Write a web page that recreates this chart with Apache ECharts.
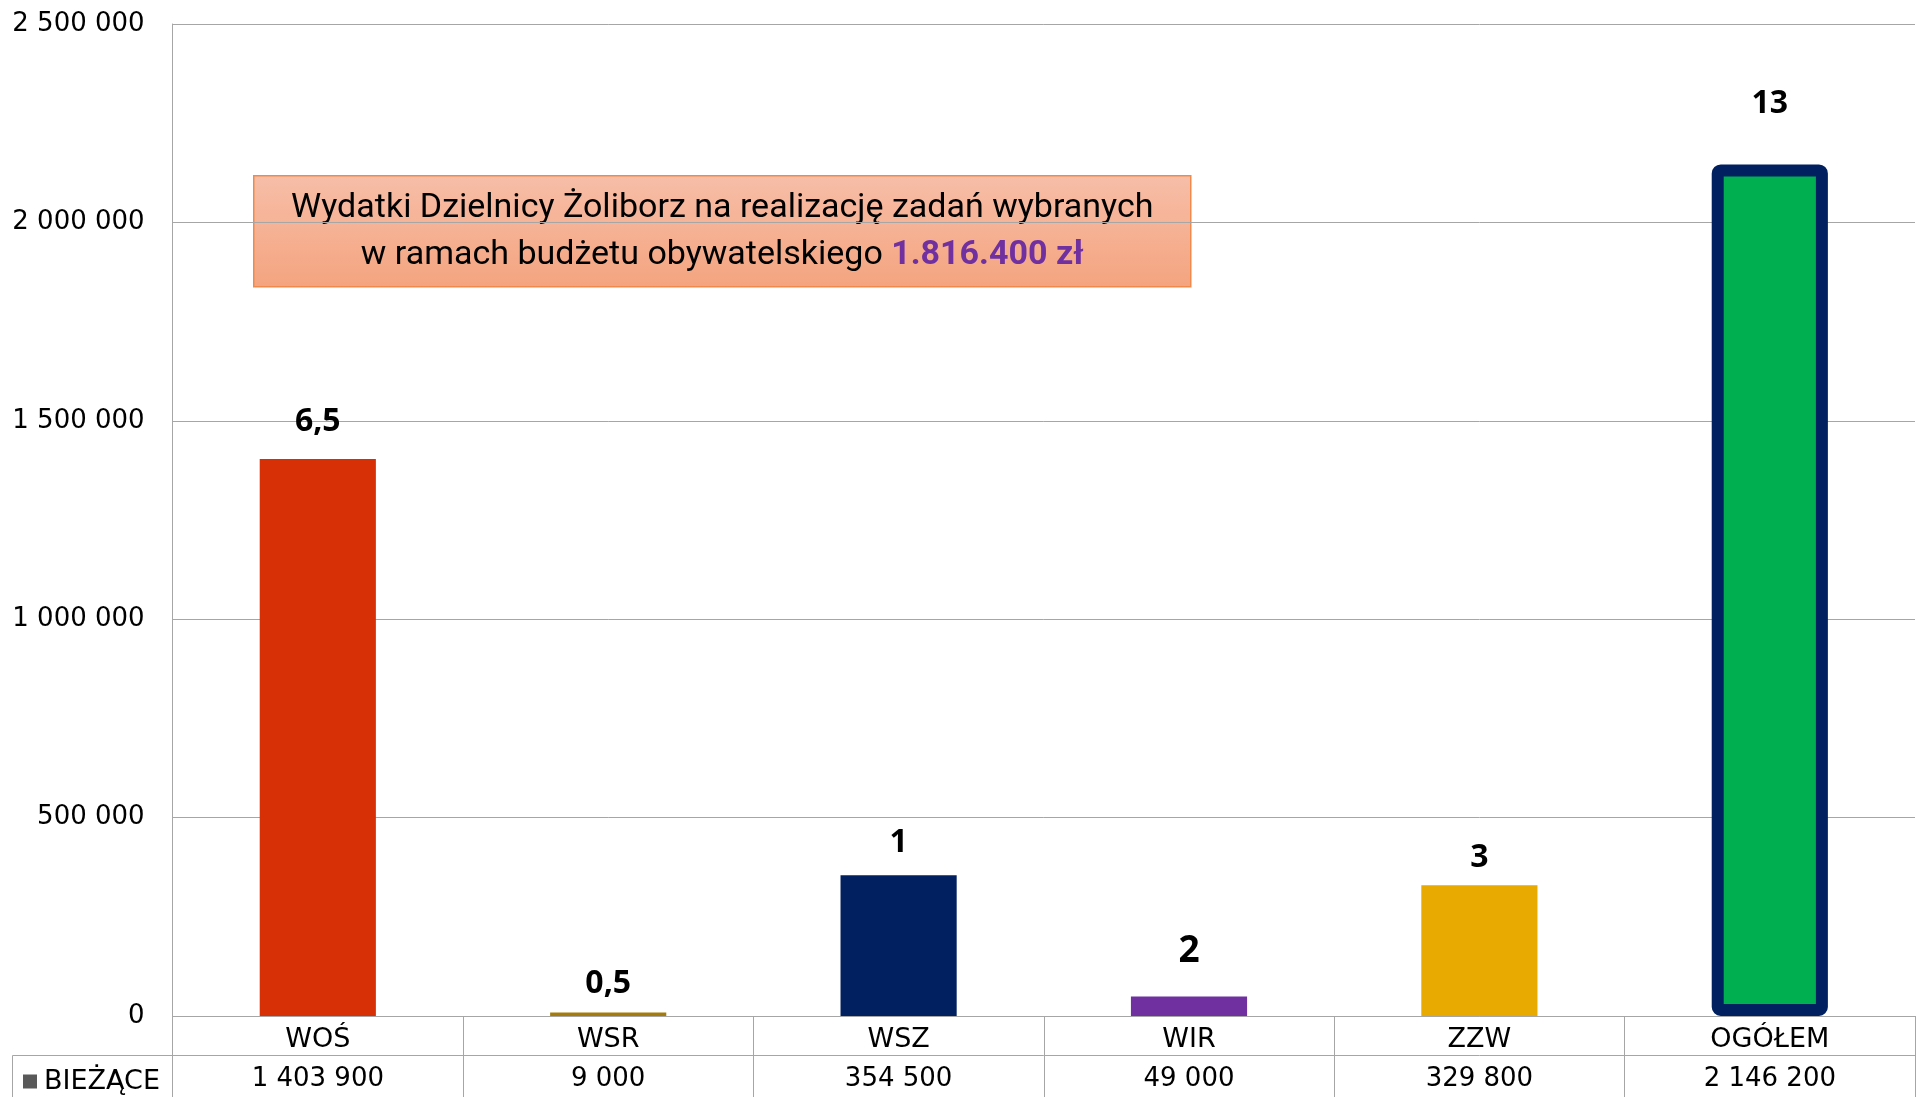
<!DOCTYPE html>
<html>
<head>
<meta charset="utf-8">
<script src="https://cdn.jsdelivr.net/npm/echarts@6/dist/echarts.min.js"></script>
<style>
html,body{margin:0;padding:0;background:#fff;}
#c{width:1919px;height:1097px;}
</style>
</head>
<body>
<div id="c"></div>
<script>
// ---- data ----
const categories = ['WOŚ', 'WSR', 'WSZ', 'WIR', 'ZZW', 'OGÓŁEM'];
const values = [1403900, 9000, 354500, 49000, 329800, 2146200];
const barLabels = ['6,5', '0,5', '1', '2', '3', '13'];
const seriesName = 'BIEŻĄCE';
const yTicks = [0, 500000, 1000000, 1500000, 2000000, 2500000];
const boxLine1 = 'Wydatki Dzielnicy Żoliborz na realizację zadań wybranych';
const boxLine2 = 'w ramach budżetu obywatelskiego ';
const boxAmount = '1.816.400 zł';

// ---- styles ----
const barColors = ['#D83006', '#A57C0B', '#002060', '#7030A0', '#E8A900', '#00B050'];
const labelDistance = [21, 13, 16, 27, 11, 44];
const labelSize = [32, 32, 32, 37, 32, 32];
const gridGray = '#A6A6A6';
const axisFont = 'DejaVu Sans';

function fmt(n) { return String(n).replace(/\B(?=(\d{3})+(?!\d))/g, ' '); }

const chart = echarts.init(document.getElementById('c'), null, {renderer: 'canvas'});

const dataItems = values.map((v, i) => {
  const item = {
    value: v,
    itemStyle: {color: barColors[i]},
    label: {distance: labelDistance[i], fontSize: labelSize[i]}
  };
  if (i === values.length - 1) {
    item.itemStyle = {color: barColors[i], borderColor: '#002060', borderWidth: 12, borderRadius: 3};
  }
  return item;
});

const option = {
  animation: false,
  backgroundColor: '#fff',
  grid: {left: 172.6, right: 4, top: 24, bottom: 81, containLabel: false},
  legend: {
    data: [seriesName],
    left: 18, top: 1063,
    icon: 'rect', itemWidth: 14, itemHeight: 14, itemGap: 4,
    textStyle: {fontFamily: axisFont, fontSize: 27, color: '#000', padding: [0, 0, 0, 2]},
    selectedMode: false
  },
  xAxis: [
    {
      type: 'category',
      data: categories,
      position: 'bottom',
      axisLine: {show: true, lineStyle: {color: gridGray, width: 1}},
      axisTick: {show: true, length: 81, interval: 0, alignWithLabel: false, lineStyle: {color: gridGray, width: 1}},
      axisLabel: {interval: 0, margin: 10, fontFamily: axisFont, fontSize: 27, color: '#000'},
      splitLine: {show: false}
    },
    {
      type: 'category',
      data: values.map(fmt),
      position: 'bottom',
      offset: 39,
      axisLine: {show: true, lineStyle: {color: gridGray, width: 1}},
      axisTick: {show: false},
      axisLabel: {interval: 0, margin: 11, fontFamily: axisFont, fontSize: 26, color: '#000'},
      splitLine: {show: false}
    }
  ],
  yAxis: {
    type: 'value',
    min: yTicks[0],
    max: yTicks[yTicks.length - 1],
    interval: yTicks[1] - yTicks[0],
    axisLine: {show: true, lineStyle: {color: gridGray, width: 1}},
    axisTick: {show: false},
    splitLine: {show: true, lineStyle: {color: gridGray, width: 1}},
    axisLabel: {margin: 28, fontFamily: axisFont, fontSize: 26, color: '#000', formatter: v => fmt(v)}
  },
  series: [{
    name: seriesName,
    type: 'bar',
    xAxisIndex: 0,
    barWidth: '40%',
    itemStyle: {color: '#595959'},
    label: {
      show: true,
      position: 'top',
      fontFamily: 'Open Sans',
      fontWeight: 'bold',
      color: '#000',
      formatter: p => barLabels[p.dataIndex]
    },
    data: dataItems
  }],
  graphic: [
    {
      type: 'line', silent: true,
      shape: {x1: 12.5, y1: 1055.5, x2: 173, y2: 1055.5},
      style: {stroke: gridGray, lineWidth: 1}
    },
    {
      type: 'line', silent: true,
      shape: {x1: 12.5, y1: 1055.5, x2: 12.5, y2: 1097},
      style: {stroke: gridGray, lineWidth: 1}
    },
    {
      type: 'group',
      left: 253, top: 175,
      children: [
        {
          type: 'rect',
          shape: {x: 0, y: 0, width: 937, height: 111},
          style: {
            fill: new echarts.graphic.LinearGradient(0, 0, 0, 1, [
              {offset: 0, color: '#F7BEA8'},
              {offset: 1, color: '#F4A47F'}
            ]),
            stroke: '#F08A4C', lineWidth: 1.5
          }
        },
        {
          type: 'text',
          x: 468.5, y: 56,
          style: {
            text: '{a|' + boxLine1 + '}\n{a|' + boxLine2 + '}{b|' + boxAmount + '}',
            align: 'center', verticalAlign: 'middle',
            rich: {
              a: {fontFamily: 'Roboto, sans-serif', fontSize: 34, fill: '#000', lineHeight: 47},
              b: {fontFamily: 'Roboto, sans-serif', fontSize: 34, fontWeight: 'bold', fill: '#7030A0', lineHeight: 47}
            }
          }
        }
      ]
    }
  ]
};

chart.setOption(option);
</script>
</body>
</html>
